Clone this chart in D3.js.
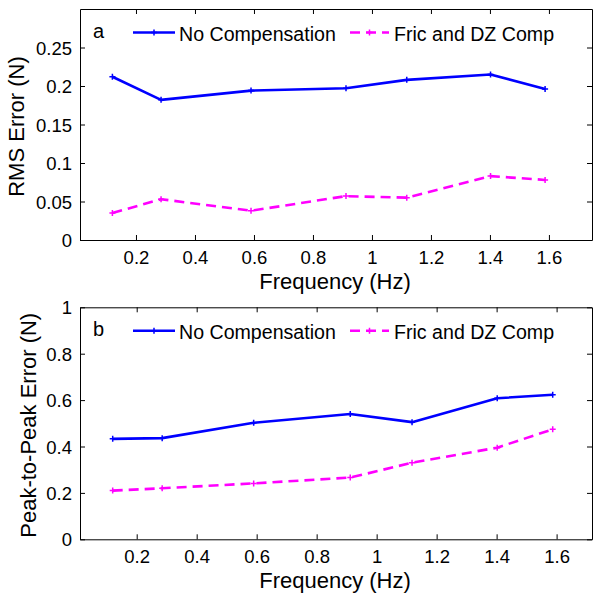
<!DOCTYPE html>
<html>
<head>
<meta charset="utf-8">
<script src="https://cdn.jsdelivr.net/npm/d3@7"></script>
<style>
  html, body { margin: 0; padding: 0; background: #fff; }
  svg { display: block; }
  text { font-family: "Liberation Sans", Arial, sans-serif; fill: #000; }
</style>
</head>
<body>
<svg id="chart" width="604" height="601"></svg>
<script>
// ---- data ----
const freq = [0.12, 0.285, 0.59, 0.912, 1.118, 1.402, 1.587];
const rmsNoComp = [0.212, 0.182, 0.194, 0.197, 0.208, 0.215, 0.196];
const rmsComp   = [0.035, 0.053, 0.038, 0.057, 0.055, 0.083, 0.078];
const p2pNoComp = [0.433, 0.436, 0.502, 0.540, 0.505, 0.608, 0.623];
const p2pComp   = [0.210, 0.220, 0.241, 0.266, 0.330, 0.395, 0.474];
const seriesNames = ["No Compensation", "Fric and DZ Comp"];
const xTicks = [0.2, 0.4, 0.6, 0.8, 1.0, 1.2, 1.4, 1.6];
const xTickLabels = ["0.2", "0.4", "0.6", "0.8", "1", "1.2", "1.4", "1.6"];
const rmsTicks = [0, 0.05, 0.1, 0.15, 0.2, 0.25];
const rmsTickLabels = ["0", "0.05", "0.1", "0.15", "0.2", "0.25"];
const p2pTicks = [0, 0.2, 0.4, 0.6, 0.8, 1];
const p2pTickLabels = ["0", "0.2", "0.4", "0.6", "0.8", "1"];
const panelLetters = ["a", "b"];
const yLabels = ["RMS Error (N)", "Peak-to-Peak Error (N)"];
const xLabel = "Frequency (Hz)";

const svg = d3.select("#chart");
const colors = ["#0000ff", "#ff00ff"];
const dashes = [null, "10,6"];

const panels = [
  { top: 9, bottom: 240, xDom: [0.0102, 1.746], yDom: [0, 0.3], yTicks: rmsTicks, yTickLabels: rmsTickLabels,
    series: [rmsNoComp, rmsComp], letter: panelLetters[0], yLabel: yLabels[0], yLabelX: 16 },
  { top: 307.3, bottom: 539.3, xDom: [0.011, 1.718], yDom: [0, 1], yTicks: p2pTicks, yTickLabels: p2pTickLabels,
    series: [p2pNoComp, p2pComp], letter: panelLetters[1], yLabel: yLabels[1], yLabelX: 28 }
];
const left = 80, right = 592;

function plusMarker(g, x, y, color) {
  g.append("path")
    .attr("d", `M${x - 3},${y}H${x + 3}M${x},${y - 3}V${y + 3}`)
    .attr("stroke", color).attr("stroke-width", 1.5).attr("fill", "none");
}

panels.forEach(p => {
  const x = d3.scaleLinear().domain(p.xDom).range([left, right]);
  const y = d3.scaleLinear().domain(p.yDom).range([p.bottom, p.top]);
  const g = svg.append("g");

  // axes (ticks inward, box)
  const axB = g.append("g").attr("transform", `translate(0,${p.bottom})`)
    .call(d3.axisBottom(x).tickValues(xTicks).tickFormat((d, i) => xTickLabels[i]).tickSize(-5).tickSizeOuter(0).tickPadding(12));
  const axT = g.append("g").attr("transform", `translate(0,${p.top})`)
    .call(d3.axisTop(x).tickValues(xTicks).tickFormat("").tickSize(-5).tickSizeOuter(0));
  const axL = g.append("g").attr("transform", `translate(${left},0)`)
    .call(d3.axisLeft(y).tickValues(p.yTicks).tickFormat((d, i) => p.yTickLabels[i]).tickSize(-5).tickSizeOuter(0).tickPadding(8));
  const axR = g.append("g").attr("transform", `translate(${right},0)`)
    .call(d3.axisRight(y).tickValues(p.yTicks).tickFormat("").tickSize(-5).tickSizeOuter(0));
  [axB, axT, axL, axR].forEach(a => {
    a.select(".domain").attr("stroke", "#000").attr("stroke-width", 1);
    a.selectAll(".tick line").attr("stroke", "#000").attr("stroke-width", 1);
    a.selectAll("text").style("font-family", '"Liberation Sans", Arial, sans-serif').style("font-size", "18.5px").attr("fill", "#000");
  });
  axB.selectAll(".tick text").attr("dy", null).attr("y", 17).attr("dominant-baseline", "central");
  axL.selectAll(".tick text").attr("dy", null).attr("x", -8).attr("dominant-baseline", "central");
  // keep the "0" label of the bottom panel's top tick etc. (no tick at edges hidden)
  axT.selectAll(".tick line").filter(d => false);

  // lines
  p.series.forEach((vals, si) => {
    const line = d3.line().x((d, i) => x(freq[i])).y(d => y(d));
    g.append("path").datum(vals)
      .attr("d", line)
      .attr("fill", "none")
      .attr("stroke", colors[si])
      .attr("stroke-width", 2.6)
      .attr("stroke-linejoin", "round")
      .attr("stroke-dasharray", dashes[si]);
    vals.forEach((v, i) => plusMarker(g, x(freq[i]), y(v), colors[si]));
  });

  // panel letter
  g.append("text").attr("x", 93).attr("y", p.top + 22).attr("dominant-baseline", "central")
    .style("font-size", "20px").text(p.letter);

  // legend
  const ly = p.top + 23.5;
  const legendItems = [
    { x1: 133, x2: 175, tx: 179 },
    { x1: 350, x2: 389, tx: 394 }
  ];
  legendItems.forEach((it, si) => {
    g.append("line").attr("x1", it.x1).attr("x2", it.x2).attr("y1", ly).attr("y2", ly)
      .attr("stroke", colors[si]).attr("stroke-width", 2.6).attr("stroke-dasharray", dashes[si]);
    plusMarker(g, (it.x1 + it.x2) / 2, ly, colors[si]);
    g.append("text").attr("x", it.tx).attr("y", ly + 1).attr("dominant-baseline", "central")
      .style("font-size", "19.6px").text(seriesNames[si]);
  });

  // axis labels
  g.append("text").attr("x", (left + right) / 2 - 1).attr("y", p.bottom + 41)
    .attr("text-anchor", "middle").attr("dominant-baseline", "central")
    .style("font-size", "22px").text(xLabel);
  g.append("text")
    .attr("transform", `translate(${p.yLabelX},${(p.top + p.bottom) / 2 + 2}) rotate(-90)`)
    .attr("text-anchor", "middle").attr("dominant-baseline", "central")
    .style("font-size", "22px").text(p.yLabel);
});
</script>
</body>
</html>
